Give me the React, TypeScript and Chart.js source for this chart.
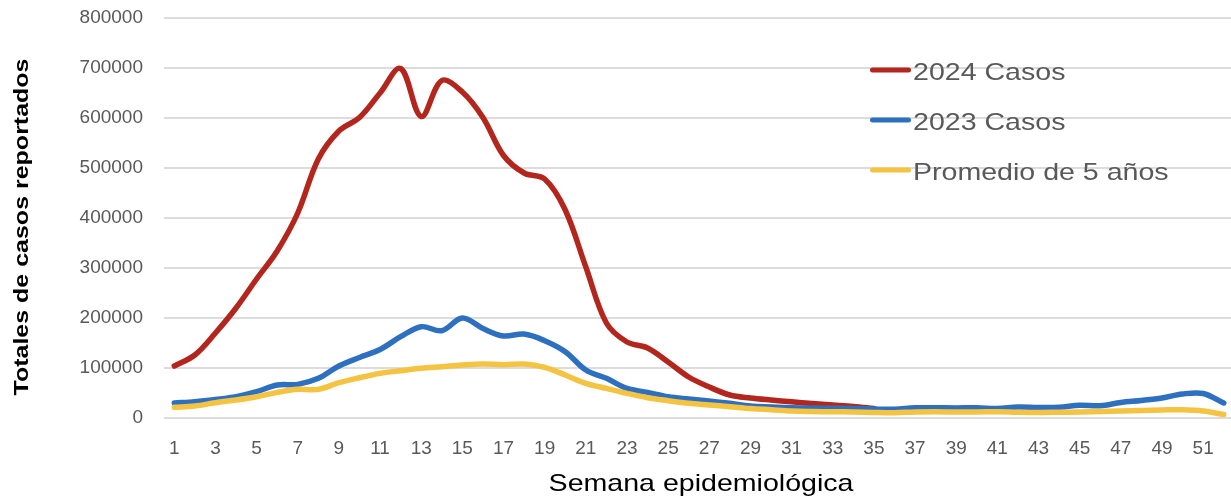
import React, { useEffect, useRef } from 'react';
import { Chart, registerables } from 'chart.js';

Chart.register(...registerables);

// ---- Data ----
const semanas = ['1','2','3','4','5','6','7','8','9','10','11','12','13','14','15','16','17','18','19','20','21','22','23','24','25','26','27','28','29','30','31','32','33','34','35','36','37','38','39','40','41','42','43','44','45','46','47','48','49','50','51','52'];

const casos2024 = [104000,126000,170000,220000,278000,334000,410000,518000,574000,601000,650000,699000,603000,675000,652000,601000,525000,490000,478000,416000,302000,190000,152000,140000,112000,82000,62000,46000,40000,36000,32500,29000,26000,23000,19000,null,null,null,null,null,null,null,null,null,null,null,null,null,null,null,null,null];

const casos2023 = [30000,32600,37000,42600,52600,66000,67300,79300,104000,121000,137000,162600,182600,174600,200000,179000,164000,168000,154600,132600,96000,79300,59300,51300,42600,38000,34000,29300,24000,22000,20500,20000,19500,19000,18000,17500,20500,20500,20000,20500,19000,22000,21000,21500,25500,24500,31000,35000,40000,48000,49000,30000];

const promedio5 = [21300,24000,30600,36000,42600,51300,57300,57300,70600,80600,89300,94600,99300,102600,106000,108000,106600,108000,101300,86000,69300,59300,49300,40600,34600,29300,26000,22600,19000,16500,14000,13000,12500,12000,11000,10500,12000,12500,12000,12000,12500,11500,11000,11500,12000,13000,14000,15000,16000,16500,14000,7000];

const seriesLabels = ['2024 Casos', '2023 Casos', 'Promedio de 5 años'];
const seriesColors = ['#B3261E', '#2E70C0', '#F5C342'];
const yTitle = 'Totales de casos reportados';
const xTitle = 'Semana epidemiológica';

const FONT = '"Liberation Sans", Arial, Helvetica, sans-serif';
const STRETCH = 1.19;

const textPlugin = {
  id: 'customTexts',
  afterDraw(chart: any) {
    const ctx = chart.ctx as CanvasRenderingContext2D;
    ctx.save();
    // Legend inside plot area
    chart.data.datasets.forEach((ds: any, i: number) => {
      const y = 70 + i * 50;
      ctx.strokeStyle = ds.borderColor;
      ctx.lineWidth = 5;
      ctx.lineCap = 'round';
      ctx.beginPath();
      ctx.moveTo(872.5, y);
      ctx.lineTo(908.5, y);
      ctx.stroke();
      ctx.save();
      ctx.translate(913, y + 10);
      ctx.scale(STRETCH, 1);
      ctx.font = `24px ${FONT}`;
      ctx.fillStyle = '#595959';
      ctx.textAlign = 'left';
      ctx.textBaseline = 'alphabetic';
      ctx.fillText(ds.label, 0, 0);
      ctx.restore();
    });
    // Y title
    ctx.save();
    ctx.translate(28, 227);
    ctx.rotate(-Math.PI / 2);
    ctx.scale(STRETCH, 1);
    ctx.font = `bold 21px ${FONT}`;
    ctx.fillStyle = '#000000';
    ctx.textAlign = 'center';
    ctx.textBaseline = 'alphabetic';
    ctx.fillText(yTitle, 0, 0);
    ctx.restore();
    // X title
    ctx.save();
    ctx.translate(701, 491);
    ctx.scale(STRETCH, 1);
    ctx.font = `24px ${FONT}`;
    ctx.fillStyle = '#000000';
    ctx.textAlign = 'center';
    ctx.textBaseline = 'alphabetic';
    ctx.fillText(xTitle, 0, 0);
    ctx.restore();
    ctx.restore();
  },
};

export default function App() {
  const canvasRef = useRef<HTMLCanvasElement | null>(null);

  useEffect(() => {
    const canvas = canvasRef.current;
    if (!canvas) return;
    const values = [casos2024, casos2023, promedio5];
    const chart = new Chart(canvas, {
      type: 'line',
      data: {
        labels: semanas,
        datasets: values.map((d, i) => ({
          label: seriesLabels[i],
          data: d,
          borderColor: seriesColors[i],
          backgroundColor: seriesColors[i],
          borderWidth: 5.5,
          pointRadius: 0,
          pointHoverRadius: 0,
          tension: 0.35,
          borderCapStyle: 'round',
          borderJoinStyle: 'round',
          fill: false,
          spanGaps: false,
          order: 3 - i,
        })),
      },
      options: {
        responsive: false,
        animation: false,
        devicePixelRatio: 1,
        layout: { padding: { top: 18, left: 0, right: 0, bottom: 0 } },
        plugins: {
          legend: { display: false },
          tooltip: { enabled: false },
          title: { display: false },
        },
        scales: {
          x: {
            type: 'category',
            offset: true,
            grid: { display: false, drawTicks: false },
            border: { display: false },
            ticks: {
              autoSkip: false,
              maxRotation: 0,
              minRotation: 0,
              padding: 19,
              color: '#595959',
              font: { family: FONT, size: 19 },
              callback: (_v: any, idx: number) => (idx % 2 === 0 ? semanas[idx] : ''),
            },
            afterFit: (scale: any) => {
              scale.height = 83;
              scale.paddingLeft = 0;
              scale.paddingRight = 0;
            },
          },
          y: {
            min: 0,
            max: 800000,
            grid: { color: '#dcdcdc', lineWidth: 2, drawTicks: false },
            border: { display: false },
            ticks: {
              stepSize: 100000,
              padding: 21,
              color: '#595959',
              font: { family: FONT, size: 19 },
              callback: (v: any) => String(v),
            },
            afterFit: (scale: any) => {
              scale.width = 164;
              scale.paddingTop = 0;
              scale.paddingBottom = 0;
            },
          },
        },
      },
      plugins: [textPlugin],
    } as any);
    return () => chart.destroy();
  }, []);

  return (
    <div
      style={{
        position: 'fixed',
        left: 0,
        top: 0,
        width: 1231,
        height: 501,
        overflow: 'hidden',
        background: '#ffffff',
      }}
    >
      <canvas ref={canvasRef} width={1234} height={501} style={{ width: 1234, height: 501, display: 'block' }} />
    </div>
  );
}
